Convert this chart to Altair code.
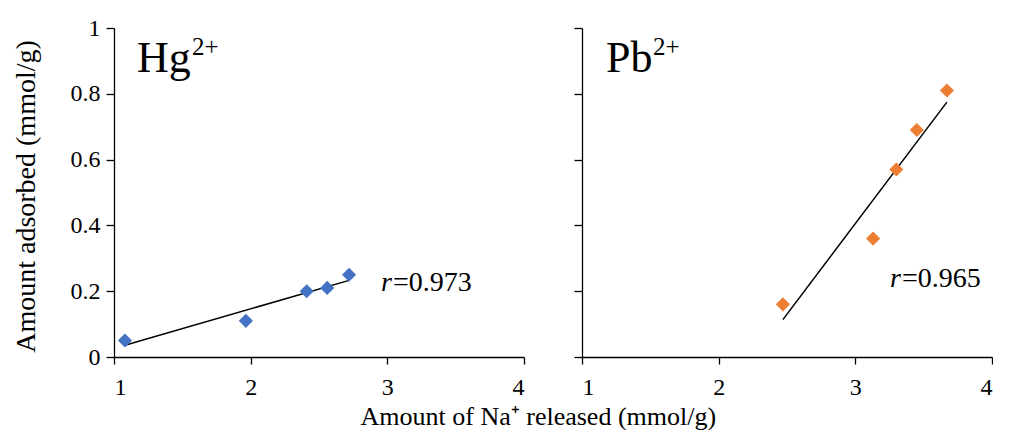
import altair as alt
import pandas as pd

# Data
hg_x = [1.08, 1.965, 2.41, 2.56, 2.72]
hg_y = [0.05, 0.11, 0.20, 0.21, 0.25]
pb_x = [2.47, 3.13, 3.30, 3.45, 3.67]
pb_y = [0.16, 0.36, 0.57, 0.69, 0.81]
x_ticks = [1, 2, 3, 4]
y_ticks = [0, 0.2, 0.4, 0.6, 0.8, 1]

FONT = "Liberation Serif"
W, H = 410, 329

common_axis = dict(
    grid=False, domainColor="black", tickColor="black", domainWidth=1.3,
    tickWidth=1.3, labelFont=FONT, labelFontSize=24, labelColor="black",
    titleFont=FONT, titleFontSize=28, titleFontWeight="normal", titleColor="black",
)


def panel(xs, ys, color, ion, ion_x, sup_x, r_val, r_x, r_y, left):
    df = pd.DataFrame({"x": xs, "y": ys})
    xaxis = alt.Axis(values=x_ticks, format="d", tickSize=7, labelPadding=11,
                     title=None, **common_axis)
    if left:
        yaxis = alt.Axis(
            values=y_ticks, format="~g", tickSize=8, labelPadding=6,
            title="Amount adsorbed (mmol/g)", titleX=-80, titleY=168,
            titleAngle=270, titleBaseline="alphabetic", titleAlign="center",
            **common_axis,
        )
    else:
        yaxis = alt.Axis(values=y_ticks, tickSize=8, labels=False, title=None,
                         **common_axis)
    xs_ = alt.Scale(domain=[1, 4], nice=False, zero=False)
    ys_ = alt.Scale(domain=[0, 1], nice=False, zero=False)

    pts = alt.Chart(df).mark_point(
        shape="diamond", filled=True, size=200, color=color, opacity=1
    ).encode(
        x=alt.X("x:Q", scale=xs_, axis=xaxis),
        y=alt.Y("y:Q", scale=ys_, axis=yaxis),
    )
    fit = alt.Chart(df).transform_regression("x", "y").mark_line(
        color="black", strokeWidth=1.5
    ).encode(x=alt.X("x:Q", scale=xs_), y=alt.Y("y:Q", scale=ys_))

    def txt(s, x, y, size, style="normal"):
        return alt.Chart(pd.DataFrame({"t": [s]})).mark_text(
            font=FONT, fontSize=size, fontStyle=style, align="left",
            baseline="alphabetic", color="black"
        ).encode(text="t:N", x=alt.value(x), y=alt.value(y))

    layers = [
        fit, pts,
        txt(ion, ion_x, 44, 44),
        txt("2+", sup_x, 27, 25),
        txt("r", r_x, r_y, 28, "italic"),
        txt("=" + r_val, r_x + 12, r_y, 28),
    ]
    return alt.layer(*layers).properties(width=W, height=H)


left = panel(hg_x, hg_y, "#4472C4", "Hg", 23, 78, "0.973", 267, 263, True)
right = panel(pb_x, pb_y, "#ED7D31", "Pb", 24, 71, "0.965", 308, 259, False)

chart = alt.hconcat(
    left, right, spacing=48,
    title=alt.TitleParams(
        "Amount of Na\u207a released (mmol/g)", orient="bottom", anchor="middle",
        font=FONT, fontSize=26, fontWeight="normal", color="black", offset=5, dx=36,
    ),
).properties(
    padding={"left": 4, "top": 8, "right": 0, "bottom": 0}
).configure_view(stroke=None)

chart.save("out.html", embed_options={"renderer": "svg", "actions": False})
